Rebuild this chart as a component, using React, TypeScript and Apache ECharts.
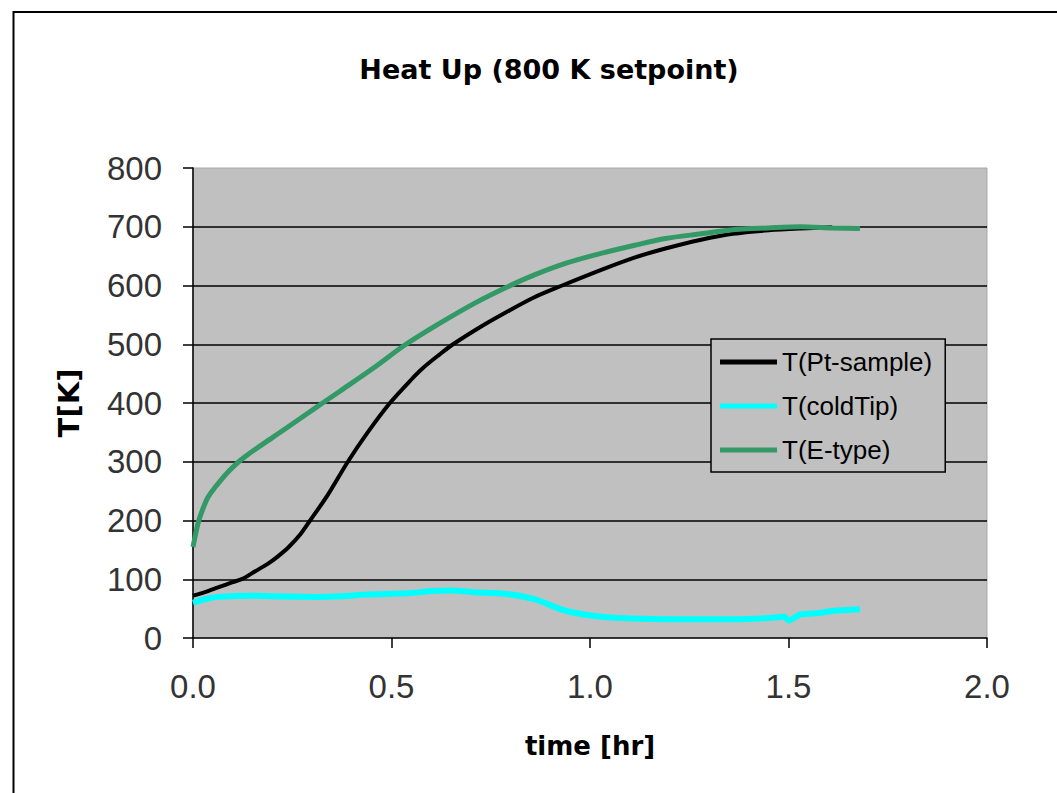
import React, { useEffect, useRef } from "react";
import * as echarts from "echarts";

const seriesNames = ["T(Pt-sample)", "T(coldTip)", "T(E-type)"];
const seriesColors = ["#000000", "#00FFFF", "#339966"];

const ptTime = [0, 0.03, 0.063, 0.1, 0.126, 0.148, 0.19, 0.214, 0.24, 0.27, 0.295, 0.34, 0.39, 0.44, 0.496, 0.55, 0.58, 0.62, 0.655, 0.73, 0.79, 0.86, 0.93, 1.03, 1.11, 1.19, 1.28, 1.36, 1.45, 1.53, 1.61];
const ptTemp = [72, 78, 86, 95, 101, 110, 127, 139, 154, 176, 200, 244, 300, 350, 400, 440, 460, 482, 500, 532, 555, 580, 600, 627, 647, 663, 678, 688, 694, 697, 699];

const coldTime = [0, 0.03, 0.063, 0.15, 0.2, 0.31, 0.37, 0.44, 0.54, 0.6, 0.65, 0.71, 0.79, 0.86, 0.94, 1.03, 1.11, 1.2, 1.28, 1.37, 1.45, 1.49, 1.5, 1.53, 1.57, 1.61, 1.68];
const coldTemp = [60, 66, 70, 72, 71, 70, 71, 74, 76, 80, 81, 78, 75, 66, 46, 36, 33, 32, 32, 32, 34, 36, 30, 40, 42, 46, 49];

const eTime = [0, 0.013, 0.025, 0.038, 0.055, 0.073, 0.09, 0.11, 0.13, 0.148, 0.2, 0.23, 0.29, 0.32, 0.37, 0.46, 0.53, 0.62, 0.71, 0.79, 0.86, 0.94, 1.03, 1.11, 1.19, 1.28, 1.36, 1.45, 1.53, 1.61, 1.68];
const eTemp = [155, 196, 220, 240, 256, 271, 284, 297, 308, 317, 341, 355, 383, 397, 420, 462, 497, 535, 570, 597, 618, 638, 655, 668, 680, 688, 695, 698, 700, 698, 697];

const yTicks = [0, 100, 200, 300, 400, 500, 600, 700, 800];
const xTicks = [0, 0.5, 1.0, 1.5, 2.0];

const zip = (a: number[], b: number[]) => a.map((t, i) => [t, b[i]]);

export default function App() {
  const ref = useRef<HTMLDivElement>(null);
  useEffect(() => {
    document.body.style.margin = "0";
    const chart = echarts.init(ref.current!, null, { renderer: "svg" });
    const widths = [4, 6, 5];
    const datas = [zip(ptTime, ptTemp), zip(coldTime, coldTemp), zip(eTime, eTemp)];
    chart.setOption({
      animation: false,
      backgroundColor: "#ffffff",
      title: {
        text: "Heat Up (800 K setpoint)",
        left: 544,
        textAlign: "center",
        top: 51,
        textStyle: { fontFamily: "DejaVu Sans", fontWeight: "bold", fontSize: 27, color: "#000" },
      },
      graphic: [
        {
          type: "rect",
          silent: true,
          z: -10,
          shape: { x: 13.5, y: 12, width: 1200, height: 1000 },
          style: { fill: "none", stroke: "#000", lineWidth: 2 },
        },
      ],
      grid: {
        left: 193,
        right: 70,
        top: 168,
        bottom: 155,
        show: true,
        backgroundColor: "#C0C0C0",
        borderColor: "#a8a8a8",
        borderWidth: 1,
      },
      legend: {
        orient: "vertical",
        left: 711,
        top: 339,
        padding: [8, 13, 7, 9],
        itemGap: 14,
        itemWidth: 57,
        itemHeight: 5,
        icon: "rect",
        backgroundColor: "#C0C0C0",
        borderColor: "#000",
        borderWidth: 1.5,
        textStyle: { fontFamily: "Liberation Sans", fontSize: 26, lineHeight: 30, color: "#000", padding: [0, 0, 0, 0] },
        data: seriesNames,
      },
      xAxis: {
        type: "value",
        min: xTicks[0],
        max: xTicks[xTicks.length - 1],
        interval: 0.5,
        name: "time [hr]",
        nameLocation: "middle",
        nameGap: 95,
        nameTextStyle: { fontFamily: "DejaVu Sans", fontWeight: "bold", fontSize: 26, color: "#000" },
        axisLine: { show: true, onZero: false, lineStyle: { color: "#000", width: 1.5 } },
        axisTick: { show: true, inside: false, length: 10, lineStyle: { color: "#000", width: 1.5 } },
        axisLabel: {
          margin: 32,
          fontFamily: "Liberation Sans",
          fontSize: 33,
          color: "#333",
          formatter: (v: number) => v.toFixed(1),
        },
        splitLine: { show: false },
      },
      yAxis: {
        type: "value",
        min: yTicks[0],
        max: yTicks[yTicks.length - 1],
        interval: 100,
        name: "T[K]",
        nameLocation: "middle",
        nameGap: 110,
        nameTextStyle: { fontFamily: "DejaVu Sans", fontWeight: "bold", fontSize: 29, color: "#000" },
        axisLine: { show: true, onZero: false, lineStyle: { color: "#000", width: 1.5 } },
        axisTick: { show: true, inside: false, length: 10, lineStyle: { color: "#000", width: 1.5 } },
        axisLabel: { margin: 31, fontFamily: "Liberation Sans", fontSize: 33, color: "#333" },
        splitLine: { show: true, showMinLine: false, showMaxLine: false, lineStyle: { color: "#000", width: 1.5 } },
      },
      series: seriesNames.map((name, i) => ({
        name,
        type: "line",
        data: datas[i],
        showSymbol: false,
        symbol: "none",
        smooth: 0.3,
        color: seriesColors[i],
        itemStyle: { color: seriesColors[i] },
        lineStyle: { color: seriesColors[i], width: widths[i] },
        z: 2 + i,
      })),
    });
    return () => chart.dispose();
  }, []);
  return <div ref={ref} style={{ width: 1057, height: 793 }} />;
}
